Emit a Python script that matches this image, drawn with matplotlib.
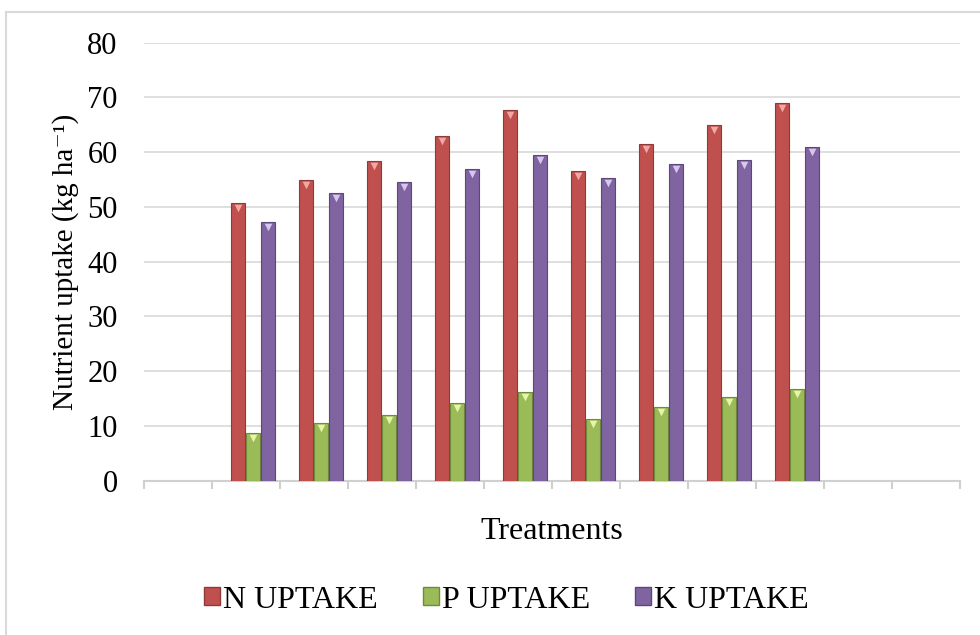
import numpy as np
import matplotlib.pyplot as plt
from matplotlib.patches import Patch
from matplotlib.lines import Line2D

# 12 category slots, treatments fill slots 1..9
n_slots = 12
slots = [1, 2, 3, 4, 5, 6, 7, 8, 9]
n_uptake = [50.7, 54.9, 58.3, 62.9, 67.7, 56.6, 61.5, 64.9, 69.0]
p_uptake = [8.7, 10.5, 11.9, 14.1, 16.1, 11.2, 13.4, 15.2, 16.7]
k_uptake = [47.3, 52.5, 54.6, 56.9, 59.4, 55.2, 57.8, 58.5, 61.0]
series = ['N UPTAKE', 'P UPTAKE', 'K UPTAKE']
colors = ['#C0504D', '#9BBB59', '#8064A2']
edges = ['#8E3A38', '#6F8A3C', '#5C4878']
tips = ['#F2A7A5', '#E6F5A8', '#D6C6F0']

plt.rcParams['font.family'] = ['Liberation Serif', 'DejaVu Serif']

fig = plt.figure(figsize=(9.8, 6.35), dpi=100)
ax = fig.add_axes([0.147, 0.2433, 0.833, 0.6895])

w = 0.21
x = np.array(slots) + 0.1
for i, (vals, c, e, t) in enumerate(zip([n_uptake, p_uptake, k_uptake], colors, edges, tips)):
    xs = x + (i - 1) * (w + 0.012)
    ax.bar(xs, vals, width=w, color=c, edgecolor=e, linewidth=0.8, zorder=3)
    ax.scatter(xs, np.array(vals) - 0.9, marker='v', s=30, color=t, zorder=4, linewidths=0)

ax.set_xlim(-0.5, n_slots - 0.5)
ax.set_ylim(0, 80)
ax.set_yticks(range(0, 81, 10))
ax.yaxis.grid(True, color='#D9D9D9', linewidth=1.2, zorder=0)
ax.set_axisbelow(True)

for s in ['top', 'right', 'left']:
    ax.spines[s].set_visible(False)
ax.spines['bottom'].set_color('#D0D0D0')
ax.spines['bottom'].set_linewidth(1.5)

ax.set_xticks([])
ax.set_xticks(np.arange(-0.5, n_slots, 1.0), minor=True)
ax.tick_params(axis='x', which='minor', length=6, color='#D0D0D0', width=1.5, labelbottom=False)
ax.tick_params(axis='y', length=0, pad=19, labelsize=22)

ax.set_ylabel('Nutrient uptake (kg ha\u207b\u00b9)', fontsize=21, labelpad=6)
ax.set_xlabel('Treatments', fontsize=23, labelpad=20)

handles = [Patch(facecolor=c, edgecolor=e) for c, e in zip(colors, edges)]
fig.legend(handles, series, loc='center', bbox_to_anchor=(0.517, 0.055), ncol=3,
           frameon=False, fontsize=23, handlelength=0.5, handleheight=0.5,
           handletextpad=0.1, columnspacing=1.4)

# outer chart border (top and left only visible)
fig.add_artist(Line2D([0.0065, 1.0], [0.981, 0.981], color='#D9D9D9', linewidth=1.5))
fig.add_artist(Line2D([0.0065, 0.0065], [0.0, 0.981], color='#D9D9D9', linewidth=1.5))

fig.savefig('out.png', dpi=100)
